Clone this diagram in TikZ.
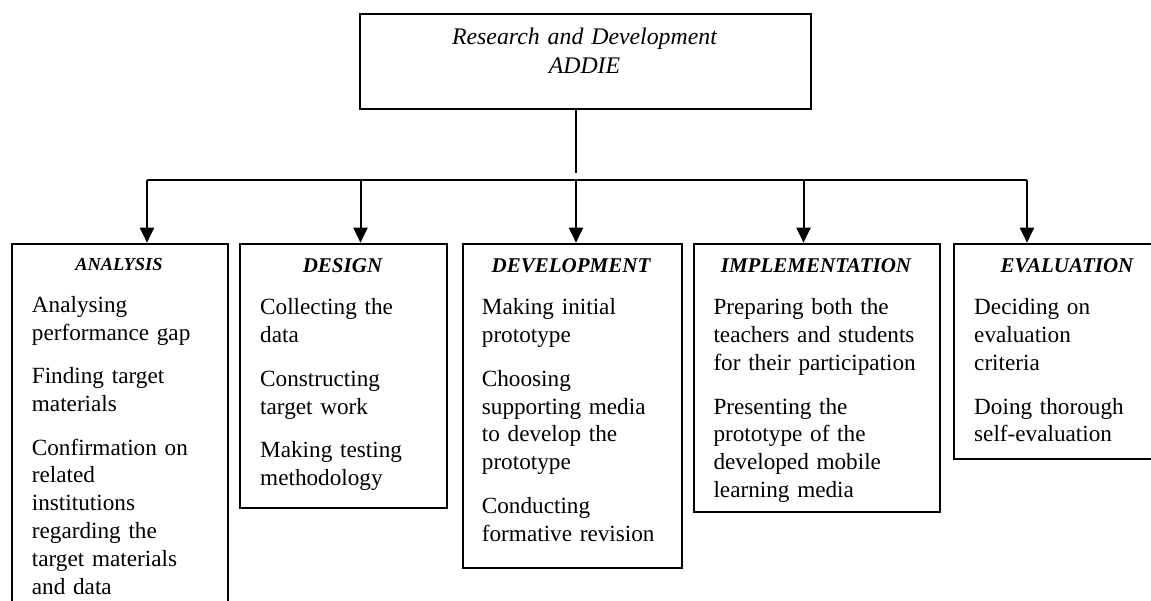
\documentclass[tikz,border=0pt]{standalone}
\usepackage{fontspec}
\setmainfont{Liberation Serif}
\usetikzlibrary{arrows.meta}
\begin{document}
\begin{tikzpicture}[x=1pt, y=-1pt,
  box/.style={draw, line width=2pt, anchor=north west, inner sep=0pt},
  head/.style={anchor=base, inner sep=0pt, font=\fontsize{21}{25}\selectfont\bfseries\itshape},
  item/.style={anchor=base west, inner sep=0pt, text width=#1, align=left, font=\fontsize{23.2}{27.9}\selectfont},
  arr/.style={line width=2pt, -{Triangle[length=15pt, width=14pt]}}]
  \clip (0,0) rectangle (1151,601);

  % Kotak utama
  \node[box, minimum width=451pt, minimum height=95pt] (rd) at (359,13) {};
  \node[anchor=base, inner sep=0pt, text width=420pt, align=center,
        font=\fontsize{23.8}{29}\selectfont\itshape] (rdtext) at (584.5,44.3) {Research and Development\\ADDIE};

  % Lima tahap
  \node[box, minimum width=216pt, minimum height=400pt] (ana) at (10.7,242.7) {};
  \node[box, minimum width=207pt, minimum height=264pt] (des) at (239,242.7) {};
  \node[box, minimum width=219pt, minimum height=324pt] (dev) at (461.5,242.7) {};
  \node[box, minimum width=246pt, minimum height=268pt] (imp) at (693,242.7) {};
  \node[box, minimum width=230pt, minimum height=215pt] (eva) at (952.5,242.7) {};

  \node[head, font=\fontsize{18.4}{22}\selectfont\bfseries\itshape] (anaH) at (118.9,270.7) {ANALYSIS};
  \node[head] (desH) at (342.5,272.7) {DESIGN};
  \node[head] (devH) at (571,273) {DEVELOPMENT};
  \node[head] (impH) at (816,273) {IMPLEMENTATION};
  \node[head] (evaH) at (1067,272.7) {EVALUATION};

  \node[item=190pt] (anaT) at (31.7,312.7) {Analysing\\performance gap\\[15.4pt]
    Finding target\\materials\\[15.4pt]
    Confirmation on\\related\\institutions\\regarding the\\target materials\\and data};
  \node[item=180pt] (desT) at (260,315) {Collecting the\\data\\[15.4pt]
    Constructing\\target work\\[15.4pt]
    Making testing\\methodology};
  \node[item=195pt] (devT) at (481.7,315) {Making initial\\prototype\\[15.4pt]
    Choosing\\supporting media\\to develop the\\prototype\\[15.4pt]
    Conducting\\formative revision};
  \node[item=222pt] (impT) at (713.3,315) {Preparing both the\\teachers and students\\for their participation\\[15.4pt]
    Presenting the\\prototype of the\\developed mobile\\learning media};
  \node[item=170pt] (evaT) at (974,315) {Deciding on\\evaluation\\criteria\\[15.4pt]
    Doing thorough\\self-evaluation};

  % Garis penghubung
  \coordinate (trunk) at (576,173.5);
  \coordinate (b1) at (147,180);
  \coordinate (b2) at (360.5,180);
  \coordinate (b3) at (576,180);
  \coordinate (b4) at (803.5,180);
  \coordinate (b5) at (1027,180);
  \draw[line width=2pt] (rd.south -| trunk) -- (trunk);
  \draw[line width=2.6pt] (b1) -- (b5);
  \foreach \b/\n in {b1/ana, b2/des, b3/dev, b4/imp, b5/eva}
    \draw[arr] (\b) -- (\b |- \n.north);
\end{tikzpicture}
\end{document}
